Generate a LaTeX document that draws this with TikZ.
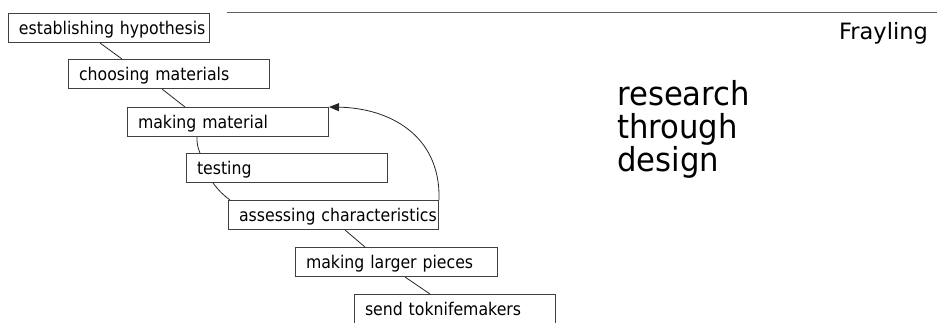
\documentclass[tikz,border=0pt]{standalone}
\usepackage{fontspec}
\setmainfont{DejaVu Sans}
\newfontfamily\boxfont[FakeStretch=0.9]{DejaVu Sans}
\newfontfamily\bigfont[FakeStretch=0.93]{DejaVu Sans}
\usetikzlibrary{arrows.meta}
\definecolor{boxgray}{HTML}{404040}
\definecolor{rulegray}{HTML}{606060}
\begin{document}
\begin{tikzpicture}[x=1pt,y=-1pt,
  stepbox/.style={draw=boxgray, line width=1pt, anchor=north west,
    inner xsep=10.5pt, inner ysep=0pt, text height=21pt, text depth=8pt,
    text width=#1, align=left, font=\boxfont\fontsize{17.5}{20}\selectfont},
  conn/.style={draw=black!85, line width=0.8pt},
  bigtext/.style={anchor=base west, inner sep=0pt, font=\bigfont\fontsize{33}{33}\selectfont}
]
\useasboundingbox (0,0) rectangle (937,322);
\clip (0,0) rectangle (937,322);

\coordinate (r1) at (227,12);
\coordinate (r2) at (937,12);
\draw[rulegray, line width=1pt] (r1) -- (r2);

\node[anchor=base east, inner sep=0pt, font=\fontsize{22.5}{25}\selectfont] (fray) at (928,39) {Frayling};

\node[bigtext] (t1) at (617,105) {research};
\node[bigtext] (t2) at (617,138) {through};
\node[bigtext] (t3) at (617,171) {design};

\node[stepbox=180pt] (b1) at (8,13) {\mbox{establishing hypothesis}};
\node[stepbox=180pt] (b2) at (68,59) {\mbox{choosing materials}};
\node[stepbox=180pt] (b3) at (127,107) {\mbox{making material}};
\node[stepbox=180pt] (b4) at (186,153) {\mbox{testing}};
\node[stepbox=189pt] (b5) at (228,200) {\mbox{assessing characteristics}};
\node[stepbox=181pt] (b6) at (295,247) {\mbox{making larger pieces}};
\node[stepbox=180pt] (b7) at (354,294) {\mbox{send toknifemakers}};

\draw[conn] ([xshift=92pt]b1.south west) -- ([xshift=54pt]b2.north west);
\draw[conn] ([xshift=94pt]b2.south west) -- ([xshift=58pt]b3.north west);
\draw[conn] ([xshift=70pt]b3.south west) to[bend right=12] ([xshift=14pt]b4.north west);
\draw[conn] ([xshift=27pt]b4.south west) to[bend right=8] ([xshift=2pt]b5.north west);
\draw[conn] ([xshift=117pt]b5.south west) -- ([xshift=70pt]b6.north west);
\draw[conn] ([xshift=110pt]b6.south west) -- ([xshift=76pt]b7.north west);

\draw[conn, -{Triangle[length=10pt,width=8pt]}] (b5.north east) .. controls +(2,-65) and +(60,1) .. (b3.north east);
\end{tikzpicture}
\end{document}
